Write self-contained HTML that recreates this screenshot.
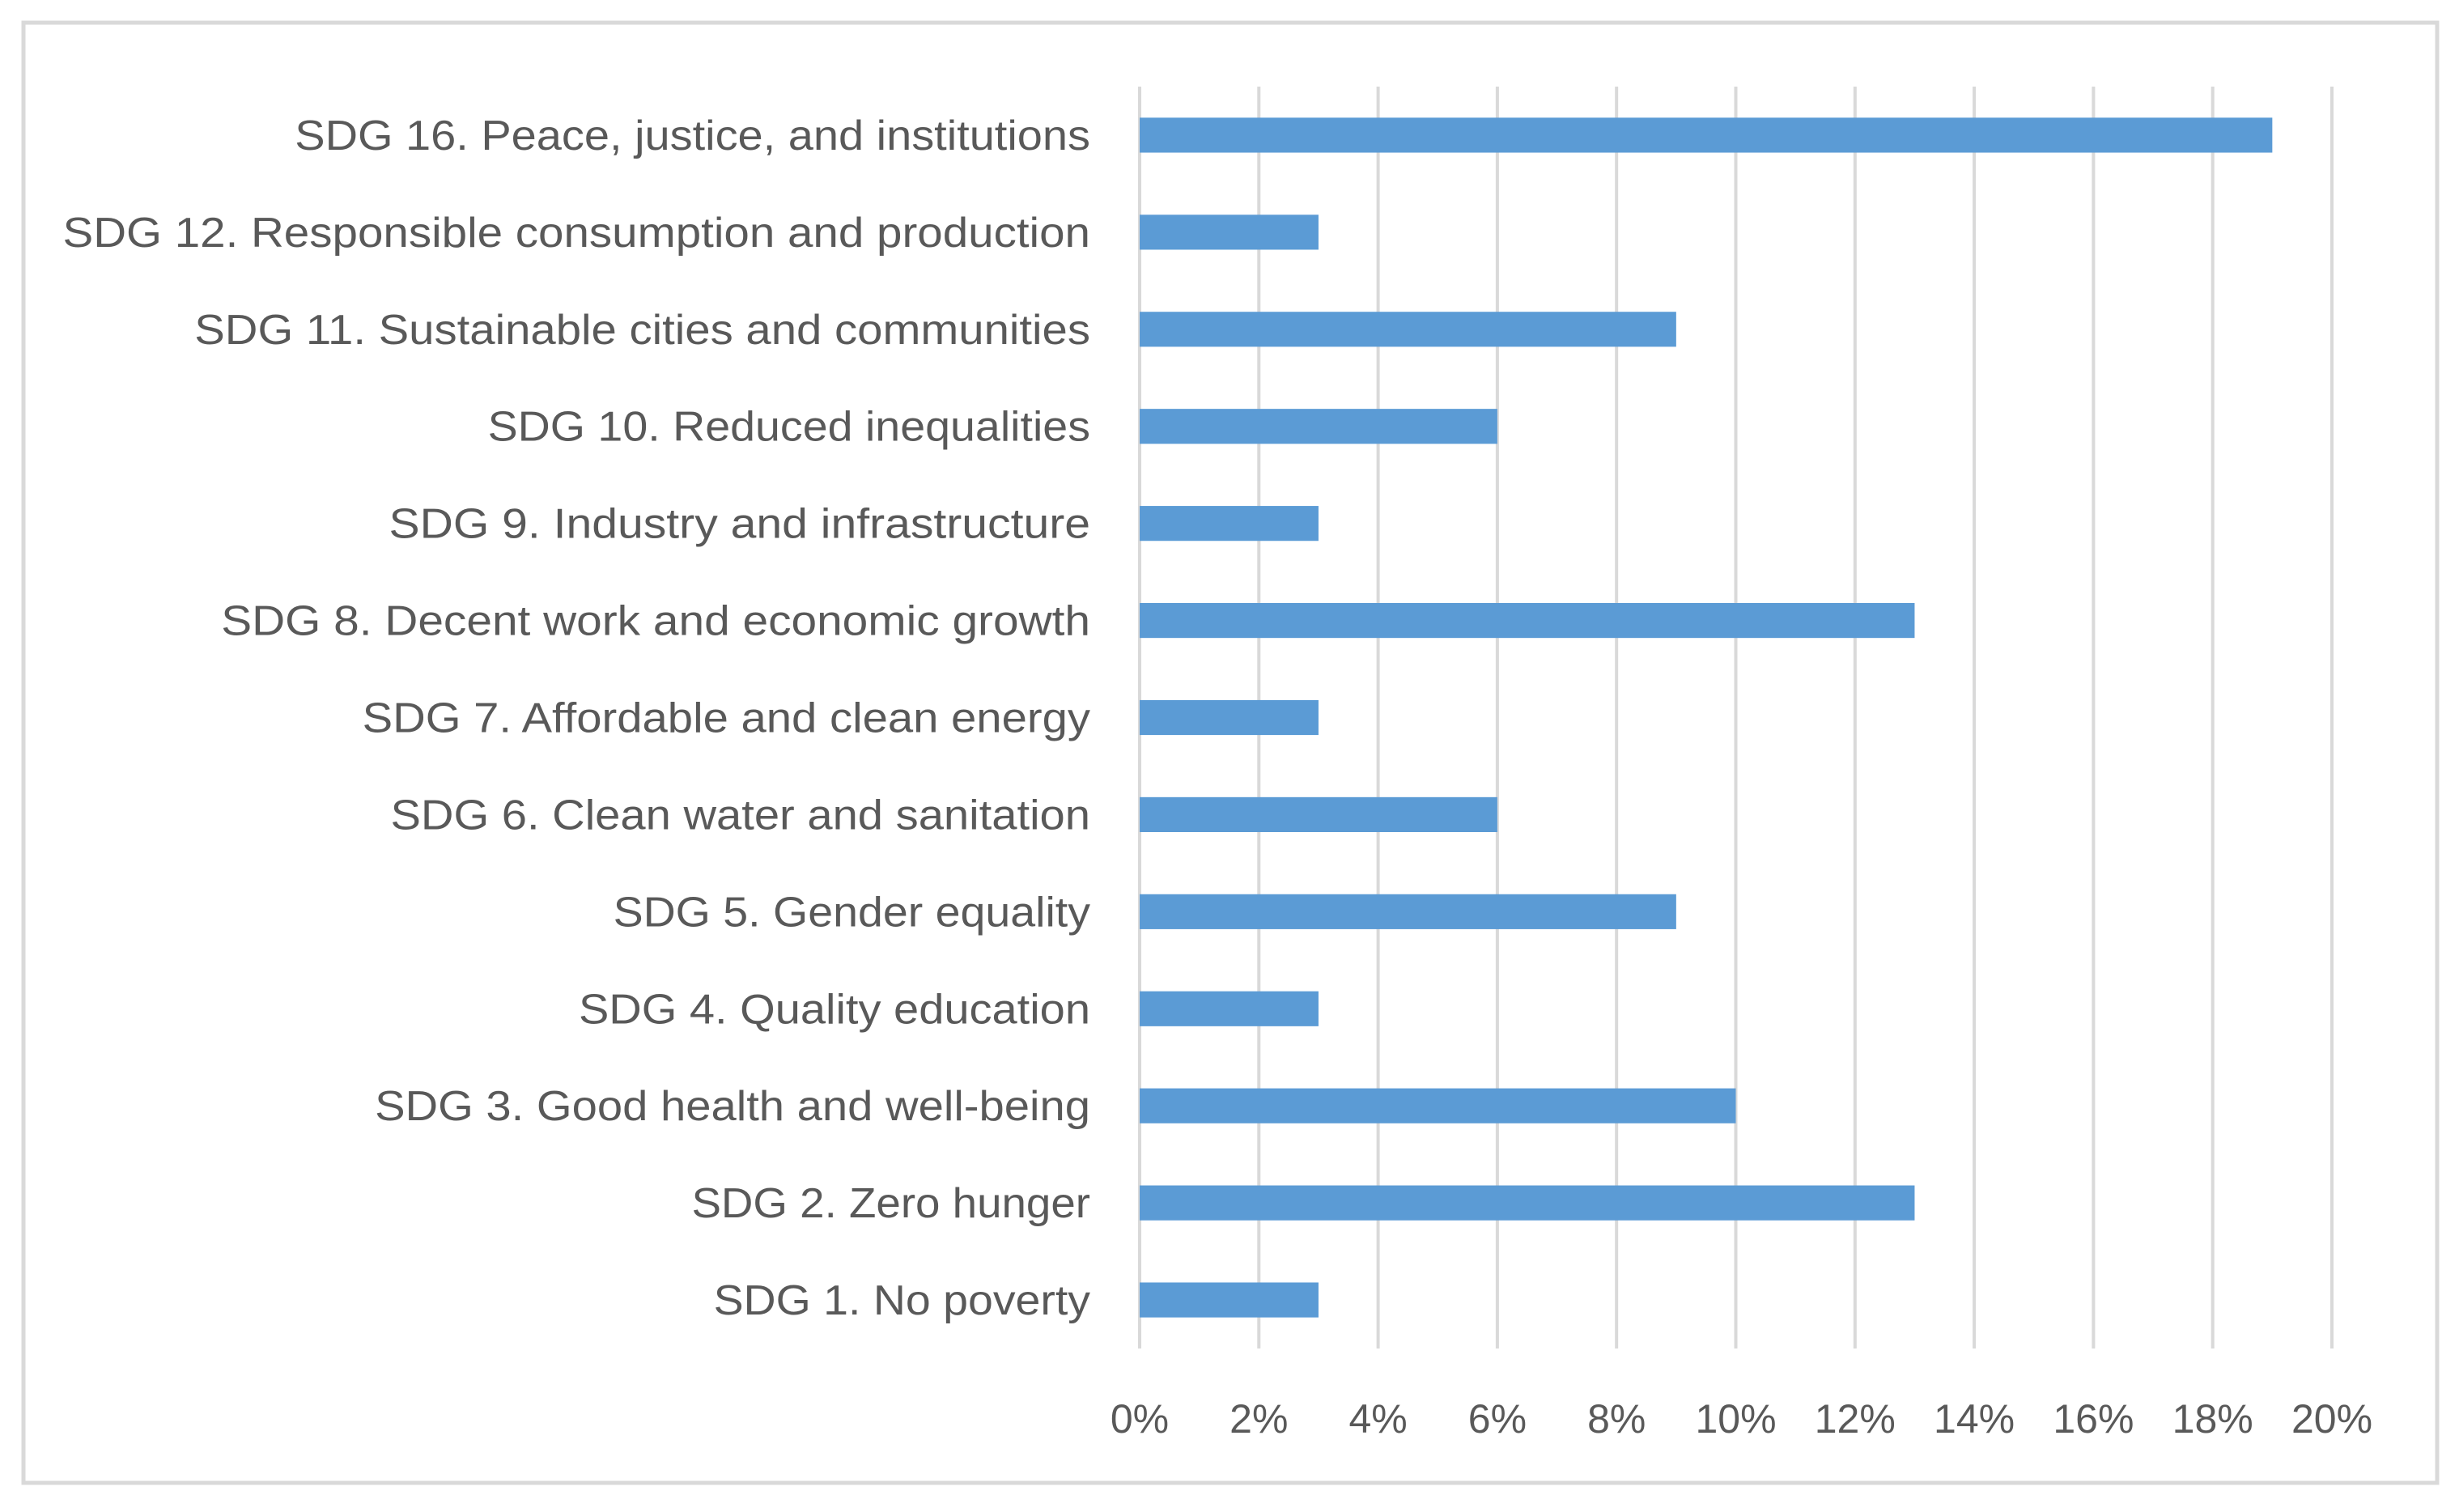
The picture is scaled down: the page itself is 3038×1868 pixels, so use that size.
<!DOCTYPE html>
<html><head><meta charset="utf-8"><style>
html,body{margin:0;padding:0;background:#fff;}
svg{display:block;}
text{font-family:"Liberation Sans Narrow","Liberation Sans",sans-serif;fill:#595959;}
</style></head>
<body>
<svg id="chart" width="3038" height="1868" viewBox="0 0 3038 1868" xmlns="http://www.w3.org/2000/svg">
<rect x="29" y="28" width="2982" height="1804" fill="#fff" stroke="#d9d9d9" stroke-width="5"/>
<g id="grid"></g><g id="bars"></g><g id="labels"></g><g id="ticks"></g>
</svg>
<script>
const categories = ["SDG 16. Peace, justice, and institutions","SDG 12. Responsible consumption and production","SDG 11. Sustainable cities and communities","SDG 10. Reduced inequalities","SDG 9. Industry and infrastructure","SDG 8. Decent work and economic growth","SDG 7. Affordable and clean energy","SDG 6. Clean water and sanitation","SDG 5. Gender equality","SDG 4. Quality education","SDG 3. Good health and well-being","SDG 2. Zero hunger","SDG 1. No poverty"];
const values = [19,3,9,6,3,13,3,6,9,3,10,13,3];
const tickValues = [0,2,4,6,8,10,12,14,16,18,20];
const tickLabels = ["0%","2%","4%","6%","8%","10%","12%","14%","16%","18%","20%"];
const labelStarts = [188,40,124,311,248,141,231,249,391,369,239,441,455];

const NS="http://www.w3.org/2000/svg";
const x0=1408, x1=2881, yTop=107, yBot=1666;
const xs=v=>x0+(v/20)*(x1-x0);
const band=(yBot-yTop)/categories.length;
const yc=i=>yTop+band*(i+0.5);
function mk(tag,attrs,parent){const e=document.createElementNS(NS,tag);for(const k in attrs)e.setAttribute(k,attrs[k]);parent.appendChild(e);return e;}
const grid=document.getElementById('grid'),bars=document.getElementById('bars'),labels=document.getElementById('labels'),ticks=document.getElementById('ticks');
tickValues.forEach((t,i)=>{
  const l=mk('line',{x1:xs(t),x2:xs(t),y1:yTop,y2:yBot,stroke:'#d9d9d9','stroke-width':4},grid);
  
  
  const tx=mk('text',{x:xs(t),y:1770,'text-anchor':'middle','font-size':50},ticks);
  tx.textContent=tickLabels[i];
  
  
});
const bh=band*0.36;
values.forEach((v,i)=>{
  const r=mk('rect',{x:xs(0),y:yc(i)-bh/2,width:xs(v)-xs(0),height:bh,fill:'#5b9bd5'},bars);
  
  
  const left=labelStarts[i]*1.9375, right=1347;
  const t=mk('text',{x:left,y:yc(i)+18,'font-size':52,textLength:right-left,lengthAdjust:'spacingAndGlyphs'},labels);
  t.textContent=categories[i];
  
  
});
</script>
</body></html>
